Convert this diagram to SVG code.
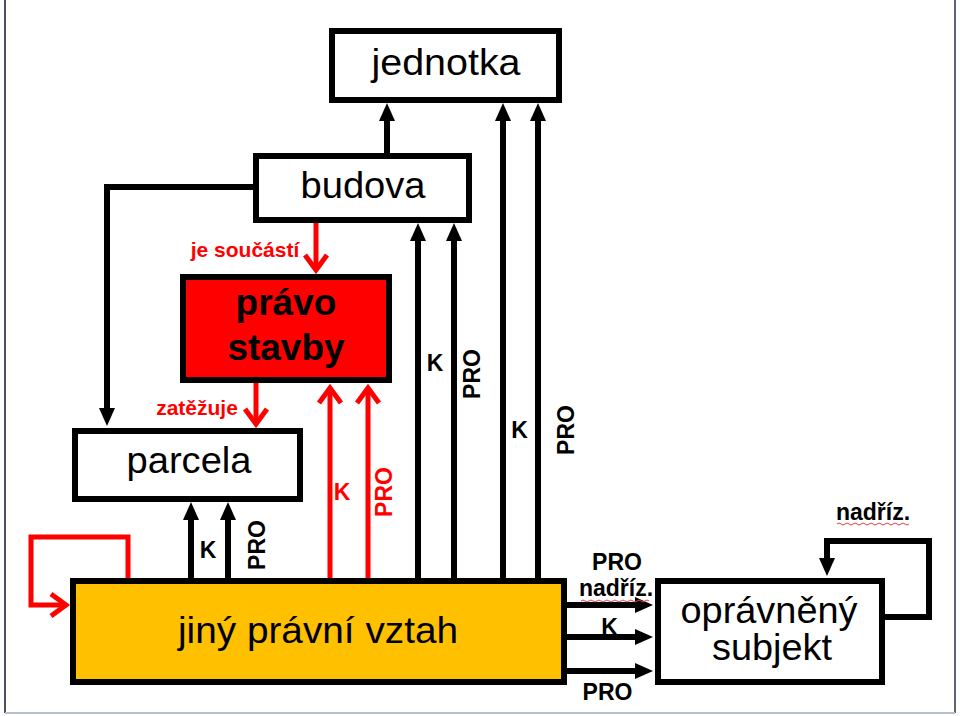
<svg xmlns="http://www.w3.org/2000/svg" width="960" height="716" viewBox="0 0 960 716">
<style>
.box{fill:#fff;stroke:#000;stroke-width:6}
.lbl{font-family:"Liberation Sans",Arial,sans-serif;font-size:36px;fill:#000;text-anchor:middle}
.big{font-family:"Liberation Sans",Arial,sans-serif;font-size:37px;font-weight:bold;fill:#000;text-anchor:middle}
.tag{font-family:"Liberation Sans",Arial,sans-serif;font-size:23px;font-weight:bold;fill:#000;text-anchor:middle}
.rtag{font-family:"Liberation Sans",Arial,sans-serif;font-size:21px;font-weight:bold;fill:#f00;text-anchor:middle}
.blk{fill:none;stroke:#000;stroke-width:6}
.red{fill:none;stroke:#f00;stroke-width:5}
</style>
<defs>
<marker id="ah" markerUnits="userSpaceOnUse" markerWidth="18" markerHeight="16" refX="2" refY="8" orient="auto" overflow="visible">
<path d="M0,0 L18,8 L0,16 Z" fill="#000"/>
</marker>
<marker id="rh" markerUnits="userSpaceOnUse" markerWidth="20" markerHeight="24" refX="0" refY="0" orient="auto" overflow="visible">
<path d="M-15,-11 L0,0 L-15,11" fill="none" stroke="#f00" stroke-width="5"/>
</marker>
</defs>

<g id="frame">
<line x1="5" y1="0" x2="5" y2="713" stroke="#4a5260" stroke-width="2"/>
<line x1="955" y1="0" x2="955" y2="713" stroke="#5a6475" stroke-width="2"/>
<line x1="5" y1="713" x2="955" y2="713" stroke="#b8c0ca" stroke-width="2"/>
</g>

<g id="connectors">
<line class="blk" x1="387" y1="153" x2="387" y2="119" marker-end="url(#ah)"/>
<path class="blk" d="M253,187 H107 V410" marker-end="url(#ah)"/>
<line class="red" x1="316" y1="223" x2="316" y2="270" marker-end="url(#rh)"/>
<line class="red" x1="256" y1="383" x2="256" y2="424" marker-end="url(#rh)"/>
<line class="blk" x1="191" y1="578" x2="191" y2="518" marker-end="url(#ah)"/>
<line class="blk" x1="228" y1="578" x2="228" y2="518" marker-end="url(#ah)"/>
<line class="red" x1="330" y1="578" x2="330" y2="388" marker-end="url(#rh)"/>
<line class="red" x1="368" y1="578" x2="368" y2="388" marker-end="url(#rh)"/>
<line class="blk" x1="418" y1="578" x2="418" y2="239" marker-end="url(#ah)"/>
<line class="blk" x1="454" y1="578" x2="454" y2="239" marker-end="url(#ah)"/>
<line class="blk" x1="503" y1="578" x2="503" y2="119" marker-end="url(#ah)"/>
<line class="blk" x1="538" y1="578" x2="538" y2="119" marker-end="url(#ah)"/>
<path class="red" d="M128,578 V537 H31 V605 H66" marker-end="url(#rh)"/>
<line class="blk" x1="567" y1="605" x2="637" y2="605" marker-end="url(#ah)"/>
<line class="blk" x1="567" y1="637" x2="637" y2="637" marker-end="url(#ah)"/>
<line class="blk" x1="567" y1="671" x2="637" y2="671" marker-end="url(#ah)"/>
<path class="blk" d="M885,617 H929 V541 H827 V560" marker-end="url(#ah)"/>

<text class="rtag" x="245" y="257">je součástí</text>
<text class="rtag" x="197" y="415">zatěžuje</text>
<text class="tag" x="435" y="371">K</text>
<text class="tag" transform="translate(480,374) rotate(-90)">PRO</text>
<text class="tag" x="519.5" y="438">K</text>
<text class="tag" transform="translate(574,430) rotate(-90)">PRO</text>
<text class="tag" x="342" y="500" style="fill:#f00">K</text>
<text class="tag" transform="translate(392,492) rotate(-90)" style="fill:#f00">PRO</text>
<text class="tag" x="208" y="558">K</text>
<text class="tag" transform="translate(265,545) rotate(-90)">PRO</text>
<text class="tag" x="617" y="570">PRO</text>
<text class="tag" x="616" y="596">nadříz.</text>
<path d="M581,601 q2,-2 4,0 t4,0 t4,0 t4,0 t4,0 t4,0 t4,0 t4,0 t4,0 t4,0 t4,0 t4,0 t4,0 t4,0 t4,0 t4,0 t4,0" fill="none" stroke="#e04040" stroke-width="1"/>
<text class="tag" x="609.5" y="635">K</text>
<text class="tag" x="607.5" y="700">PRO</text>
<text class="tag" x="873" y="520">nadříz.</text>
<path d="M837,524 q2,-2 4,0 t4,0 t4,0 t4,0 t4,0 t4,0 t4,0 t4,0 t4,0 t4,0 t4,0 t4,0 t4,0 t4,0 t4,0 t4,0 t4,0 t4,0" fill="none" stroke="#e04040" stroke-width="1"/>
</g>

<g id="jednotka">
<rect class="box" x="332" y="31" width="227" height="69"/>
<text class="lbl" x="446" y="75" textLength="149" lengthAdjust="spacingAndGlyphs">jednotka</text>
</g>
<g id="budova">
<rect class="box" x="256" y="156" width="213" height="64"/>
<text class="lbl" x="363" y="198" textLength="125" lengthAdjust="spacingAndGlyphs">budova</text>
</g>
<g id="pravo-stavby">
<rect x="183" y="277" width="206" height="103" fill="#f00" stroke="#000" stroke-width="6"/>
<text class="big" x="286" y="315">právo</text>
<text class="big" x="286" y="360">stavby</text>
</g>
<g id="parcela">
<rect class="box" x="75" y="431" width="225" height="68"/>
<text class="lbl" x="189" y="473" textLength="125" lengthAdjust="spacingAndGlyphs">parcela</text>
</g>
<g id="jiny-pravni-vztah">
<rect x="73" y="581" width="491" height="101" fill="#ffc000" stroke="#000" stroke-width="6"/>
<text class="lbl" x="318" y="643" textLength="280" lengthAdjust="spacingAndGlyphs">jiný právní vztah</text>
</g>
<g id="opravneny-subjekt">
<rect class="box" x="658" y="581" width="224" height="101"/>
<text class="lbl" x="769" y="623" textLength="177" lengthAdjust="spacingAndGlyphs">oprávněný</text>
<text class="lbl" x="772" y="660" textLength="120" lengthAdjust="spacingAndGlyphs">subjekt</text>
</g>
</svg>
